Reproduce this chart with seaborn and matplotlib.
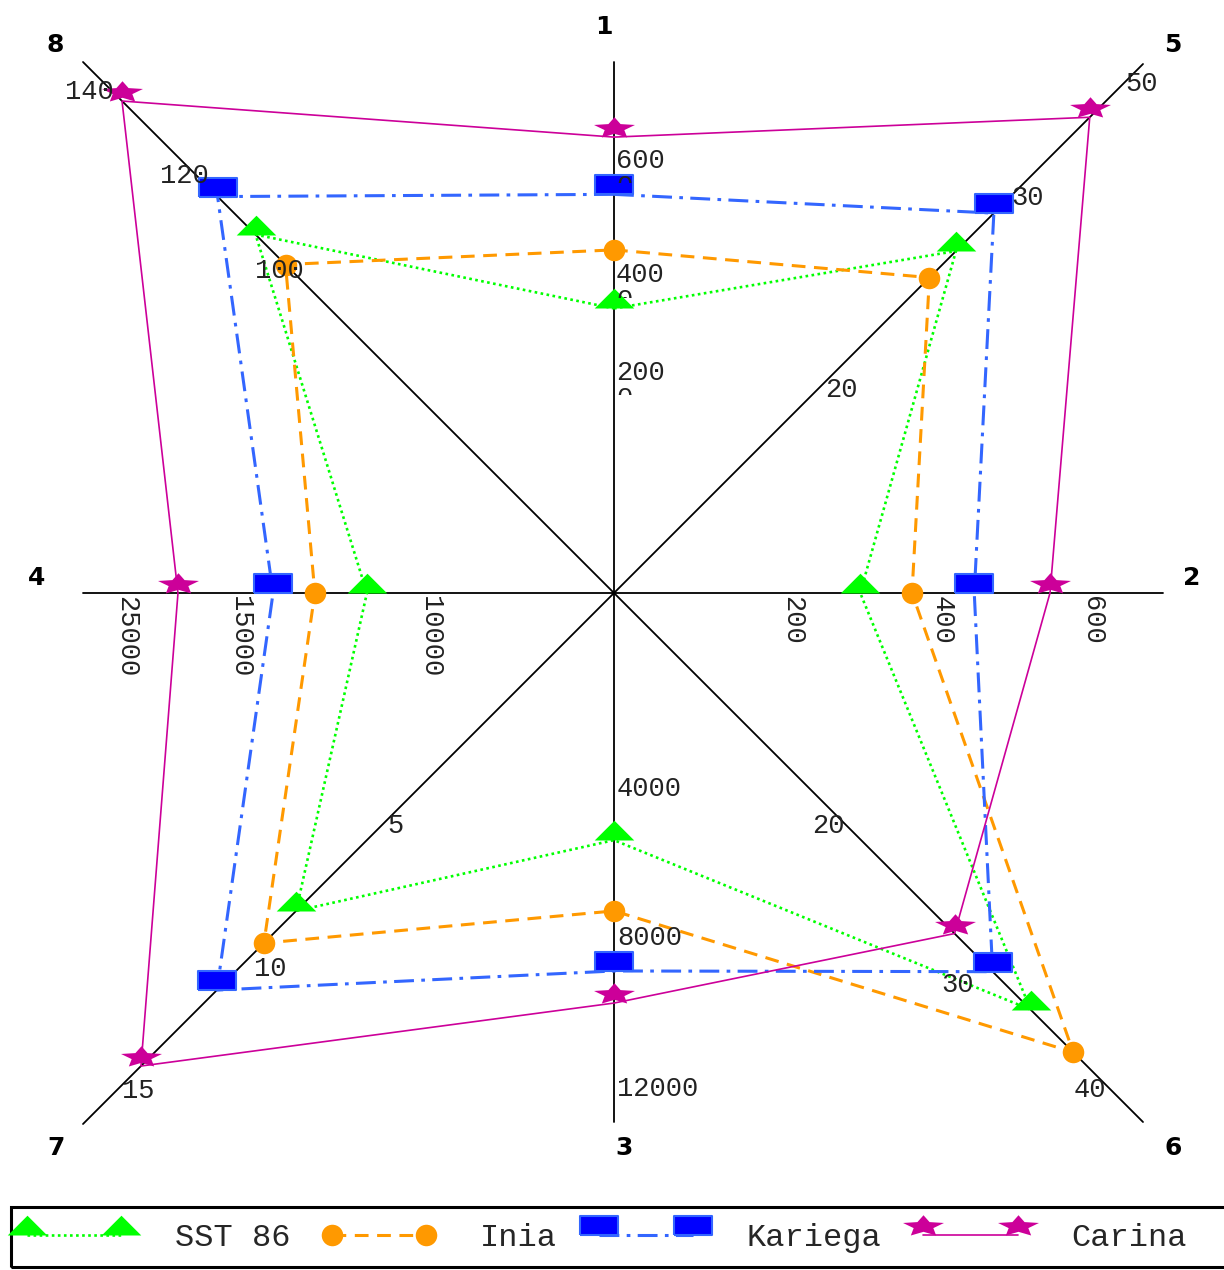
import numpy as np
import pandas as pd
import matplotlib
matplotlib.use("Agg")
import matplotlib.pyplot as plt
from matplotlib.lines import Line2D
from matplotlib.patches import Rectangle
import seaborn as sns

# --- data -------------------------------------------------------------
axis_names = ["1", "2", "3", "4", "5", "6", "7", "8"]
# the polygons visit the axes clockwise starting at the top
ring_order = [0, 4, 1, 5, 2, 6, 3, 7]

tick_vals = [
    [2000, 4000, 6000],
    [200, 400, 600],
    [4000, 8000, 12000],
    [10000, 15000, 25000],
    [20, 30, 50],
    [20, 30, 40],
    [5, 10, 15],
    [100, 120, 140],
]

varieties = ["SST 86", "Inia", "Kariega", "Carina"]
sst86 = [3300, 291, 5400, 11660, 26.7, 34.1, 8.43, 106.3]
inia = [4430, 360, 7300, 13030, 25.3, 37.7, 9.63, 100.0]
kariega = [5400, 443, 8900, 14130, 28.7, 30.9, 11.46, 114.3]
carina = [6400, 544, 9750, 20440, 42.5, 28.1, 14.45, 135.3]

# --- layout (pixels, centre of the star at CX, CY) ---------------------
W, H = 1224, 1270
CX, CY = 614, 593
axis_dir = [(0, 1), (1, 0), (0, -1), (-1, 0), (1, 1), (1, -1), (-1, -1), (-1, 1)]
axis_len = [531, 549, 529, 531, 529, 529, 531, 531]
# where each tick sits along its axis
tick_pos = [
    [221.5, 318.5, 433],
    [178, 328, 478],
    [195, 344, 495],
    [184, 374, 488],
    [215, 404.5, 518.5],
    [223.5, 368, 486.5],
    [226, 360, 487],
    [328.5, 423.5, 513],
]
# sideways shift of the tick labels on the diagonal axes
tick_side = [None, None, None, None,
             [12, 9.5, 9.5], [9.5, 24, 10.5], [7, 16, 11], [6.5, 6.5, 12]]
side_dir = [None, None, None, None, (1, -1), (-1, -1), (1, -1), (-1, -1)]
name_pos = [(604, 27), (1192, 578), (624, 1148), (37, 578),
            (1173, 45), (1173, 1148), (56, 1148), (55, 45)]


def radius(i, v):
    """Piecewise linear scale of axis i (extrapolated past the end ticks)."""
    vals = np.asarray(tick_vals[i], float)
    pos = np.asarray(tick_pos[i], float)
    k = int(np.clip(np.searchsorted(vals, v) - 1, 0, len(vals) - 2))
    return pos[k] + (v - vals[k]) * (pos[k + 1] - pos[k]) / (vals[k + 1] - vals[k])


def axis_point(i, r):
    return r * axis_dir[i][0], r * axis_dir[i][1]


# marker shapes, anchored at their bottom edge like the original chart
tri = [(-1, 0), (1, 0), (0, 1), (-1, 0)]
rect = [(-1, 0), (1, 0), (1, 1), (-1, 1), (-1, 0)]
ang = np.pi / 2 + np.arange(10) * np.pi / 5
rad = np.where(np.arange(10) % 2 == 0, 1.0, 0.48)
sy = rad * np.sin(ang) * 0.52
sy = sy - sy.min()
star = list(zip(rad * np.cos(ang), sy))
star.append(star[0])

styles = {
    "SST 86": dict(color="#00FF00", ls=(0, (1, 1.3)), lw=1.9, marker=tri, ms=28.5,
                   mfc="#00FF00", mec="#00FF00", mew=0),
    "Inia": dict(color="#FF9900", ls=(0, (4.5, 2.8)), lw=2.2, marker="o", ms=15.5,
                 mfc="#FF9900", mec="#FF9900", mew=0),
    "Kariega": dict(color="#3366FF", ls=(0, (6.5, 2.4, 1.2, 2.4)), lw=2.2, marker=rect,
                    ms=27, mfc="#0000FF", mec="#3366FF", mew=1.5),
    "Carina": dict(color="#CC0099", ls="-", lw=1.2, marker=star, ms=29.5,
                   mfc="#CC0099", mec="#CC0099", mew=0),
}

# long table of polygon vertices
rows = []
for name, vals in zip(varieties, [sst86, inia, kariega, carina]):
    for n, i in enumerate(ring_order + ring_order[:1]):
        x, y = axis_point(i, radius(i, vals[i]))
        rows.append({"variety": name, "axis": axis_names[i], "step": n, "x": x, "y": y})
df = pd.DataFrame(rows)

# --- figure -----------------------------------------------------------
sns.set_theme(style="white")
plt.rcParams["font.family"] = ["Liberation Mono", "DejaVu Sans"]

fig = plt.figure(figsize=(W / 100, H / 100), dpi=100)
ax = fig.add_axes([0, 0, 1, 1])
ax.set_xlim(-CX, W - CX)
ax.set_ylim(CY - H, CY)
ax.set_axis_off()

# axes of the star
for i in range(8):
    ex, ey = axis_point(i, axis_len[i])
    ax.plot([0, ex], [0, ey], color="black", lw=1.3, zorder=1)
    nx, ny = name_pos[i]
    ax.text(nx - CX, CY - ny, axis_names[i], fontsize=18, fontweight="bold",
            family="DejaVu Sans", ha="center", va="center", color="black")

# tick labels
lab_kw = dict(fontsize=19.5, color="#222222", family="Liberation Mono", zorder=6)
for i in range(8):
    for k, (v, p) in enumerate(zip(tick_vals[i], tick_pos[i])):
        txt = str(v)
        px, py = axis_point(i, p)
        if i == 0:
            # wrapped label: the last digit falls on a second, clipped line
            ax.text(px + 2, py - 8, txt[:-1], ha="left", va="baseline", **lab_kw)
            t2 = ax.text(px + 2, py - 34, txt[-1], ha="left", va="baseline",
                         clip_on=True, **lab_kw)
            clip = Rectangle((px - 10, py - 34 + 11), 80, 60, transform=ax.transData)
            t2.set_clip_path(clip)
        elif i == 2:
            ax.text(px + 3, py - 8, txt, ha="left", va="baseline", **lab_kw)
        elif i in (1, 3):
            ax.text(px, py - 3, txt, ha="center", va="top", rotation=270, **lab_kw)
        else:
            d = tick_side[i][k]
            sx, sdy = side_dir[i]
            ax.text(px + d * sx, py + d * sdy, txt, ha="center", va="center", **lab_kw)

# series polygons
for name in varieties:
    st = styles[name]
    sub = df[df["variety"] == name]
    sns.lineplot(data=sub, x="x", y="y", sort=False, estimator=None, ax=ax,
                 color=st["color"], linestyle=st["ls"], lw=st["lw"], legend=False,
                 zorder=2)
    pts = sub[sub["step"] < 8]
    ax.plot(pts["x"], pts["y"], linestyle="none", marker=st["marker"], ms=st["ms"],
            mfc=st["mfc"], mec=st["mec"], mew=st["mew"], zorder=3)

# legend in a box along the bottom
handles = [Line2D([], [], color=styles[n]["color"], linestyle=styles[n]["ls"],
                  lw=styles[n]["lw"], marker=styles[n]["marker"], ms=styles[n]["ms"],
                  mfc=styles[n]["mfc"], mec=styles[n]["mec"], mew=styles[n]["mew"])
           for n in varieties]
ax.legend(handles, varieties, loc="center left", bbox_to_anchor=(17 / W, (H - 1238) / H),
          bbox_transform=fig.transFigure, ncol=4, numpoints=2, frameon=False,
          prop={"family": "Liberation Mono", "size": 23}, handlelength=3.56,
          handletextpad=1.38, columnspacing=1.0, borderpad=0, borderaxespad=0)
ax.add_patch(Rectangle((11 - CX, CY - 1267), 1240, 60, fill=False, ec="black",
                       lw=2.2, clip_on=False, zorder=5))

fig.savefig("out.png", dpi=100)
